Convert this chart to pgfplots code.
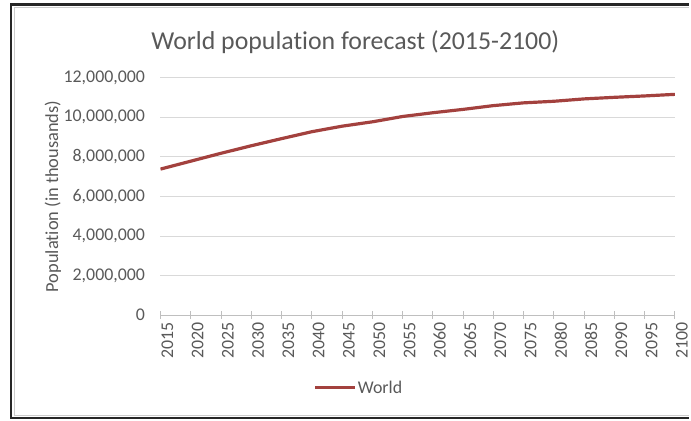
\documentclass[border=0pt]{standalone}
\usepackage{fontspec}
\setmainfont{Carlito}[Ligatures=NoCommon]
\usepackage{pgfplots}
\pgfplotsset{compat=1.18}
\definecolor{txt}{HTML}{595959}
\definecolor{gridc}{HTML}{D9D9D9}
\definecolor{axisc}{HTML}{BFBFBF}
\definecolor{series}{HTML}{A3413E}
\definecolor{frame}{HTML}{262626}

% World population, in thousands
\pgfplotstableread{
year pop
2015 7380000
2020 7780000
2025 8180000
2030 8560000
2035 8920000
2040 9270000
2045 9550000
2050 9770000
2055 10040000
2060 10230000
2065 10400000
2070 10590000
2075 10730000
2080 10810000
2085 10930000
2090 11010000
2095 11080000
2100 11160000
}\worldpop

\newcommand\tickfont{\fontsize{18}{21}\selectfont}
\newcommand\labelfont{\fontsize{18.5}{21}\selectfont}

\begin{document}
\begin{tikzpicture}
\path (0bp,0bp) rectangle (691bp,422bp);
% frame around the chart area
\draw[gray!40, line width=0.8bp] (691bp,415bp) -- (14.5bp,415bp) -- (14.5bp,5bp) -- (691bp,5bp);
\draw[frame, line width=2.5bp] (691bp,417.5bp) -- (11bp,417.5bp) -- (11bp,2.5bp) -- (691bp,2.5bp);
\node[text=txt, font=\fontsize{26}{30}\selectfont] at (356.5bp,380bp) {World population forecast (2015-2100)};
\begin{axis}[
  at={(161bp,106bp)}, anchor=south west,
  scale only axis, width=516bp, height=238bp,
  xmin=2015, xmax=2100, ymin=0, ymax=12000000,
  xtick={2015,2020,...,2100},
  ytick={0,2000000,...,12000000},
  scaled y ticks=false,
  axis x line=bottom, axis y line=left,
  x axis line style={axisc, line width=0.8bp, -},
  y axis line style={draw=none},
  ymajorgrids, grid style={gridc, line width=0.8bp},
  major y tick style={draw=none},
  major x tick style={axisc, line width=0.8bp},
  major tick length=8bp, tick align=center,
  /pgf/number format/assume math mode=true,
  tick label style={text=txt, font=\tickfont},
  yticklabel style={xshift=-8bp, /pgf/number format/fixed, /pgf/number format/1000 sep={,}},
  xticklabel style={rotate=90, anchor=east, yshift=-7bp, /pgf/number format/1000 sep={}},
  ylabel={Population (in thousands)},
  every axis y label/.style={at={(-108bp,0.5)}, rotate=90, anchor=center,
    text=txt, font=\labelfont},
  legend style={at={(0.385,-0.307)}, anchor=center, draw=none, fill=none,
    inner sep=0pt, text=txt, font=\tickfont,
    nodes={inner sep=1bp}},
  legend image code/.code={\draw[#1] (0bp,0bp) -- (40bp,0bp);},
]
\addplot[series, line width=3.2bp, line join=round] table[x=year, y=pop] {\worldpop};
\addlegendentry{World}
\end{axis}
\end{tikzpicture}
\end{document}
